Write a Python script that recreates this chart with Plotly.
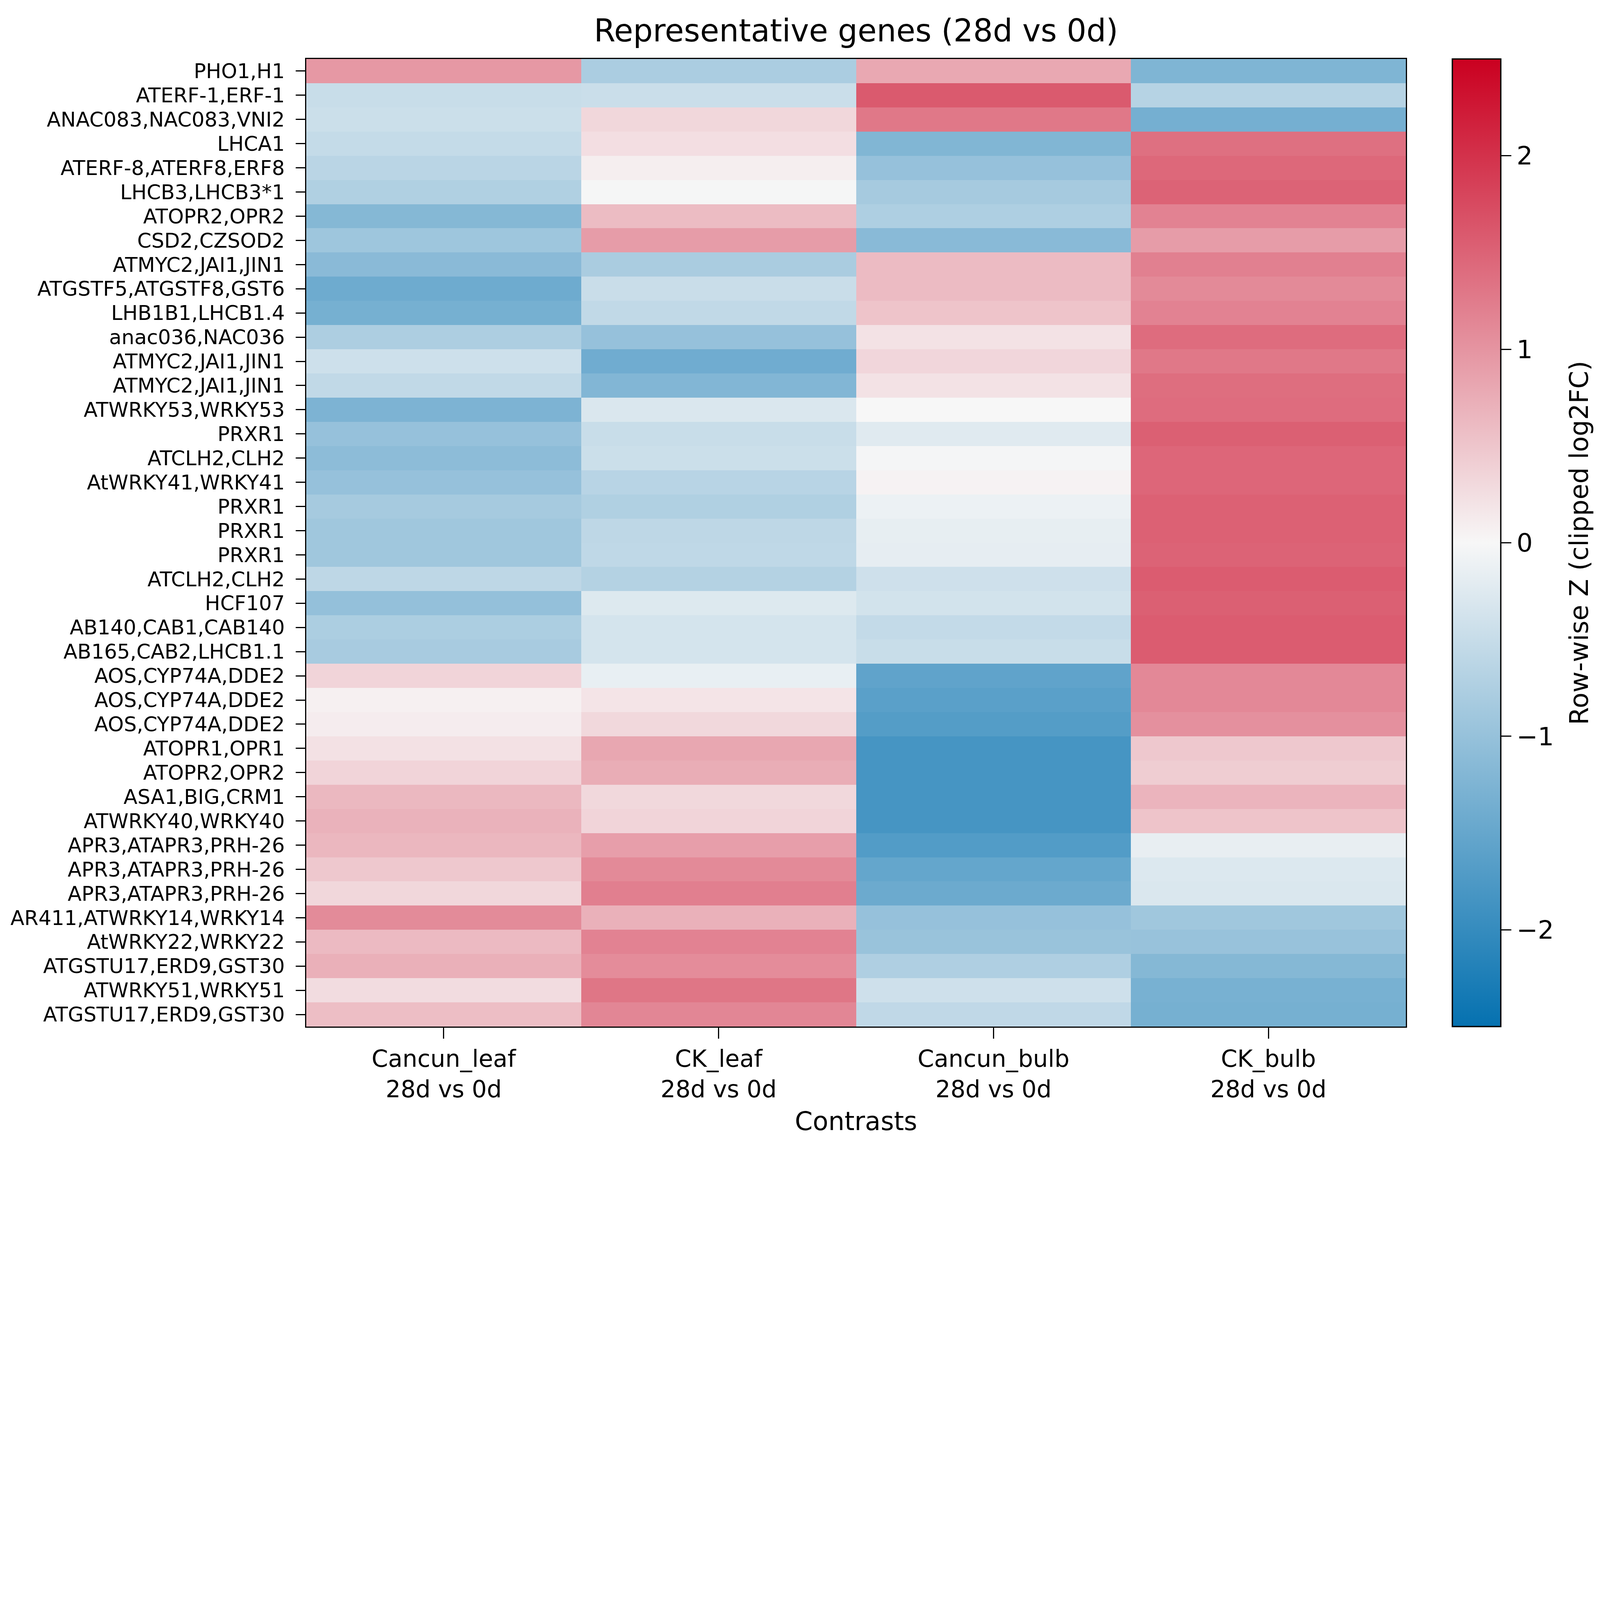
import plotly.graph_objects as go

genes = [
    "PHO1,H1", "ATERF-1,ERF-1", "ANAC083,NAC083,VNI2", "LHCA1", "ATERF-8,ATERF8,ERF8",
    "LHCB3,LHCB3*1", "ATOPR2,OPR2", "CSD2,CZSOD2", "ATMYC2,JAI1,JIN1", "ATGSTF5,ATGSTF8,GST6",
    "LHB1B1,LHCB1.4", "anac036,NAC036", "ATMYC2,JAI1,JIN1", "ATMYC2,JAI1,JIN1", "ATWRKY53,WRKY53",
    "PRXR1", "ATCLH2,CLH2", "AtWRKY41,WRKY41", "PRXR1", "PRXR1",
    "PRXR1", "ATCLH2,CLH2", "HCF107", "AB140,CAB1,CAB140", "AB165,CAB2,LHCB1.1",
    "AOS,CYP74A,DDE2", "AOS,CYP74A,DDE2", "AOS,CYP74A,DDE2", "ATOPR1,OPR1", "ATOPR2,OPR2",
    "ASA1,BIG,CRM1", "ATWRKY40,WRKY40", "APR3,ATAPR3,PRH-26", "APR3,ATAPR3,PRH-26", "APR3,ATAPR3,PRH-26",
    "AR411,ATWRKY14,WRKY14", "AtWRKY22,WRKY22", "ATGSTU17,ERD9,GST30", "ATWRKY51,WRKY51", "ATGSTU17,ERD9,GST30",
]

contrasts = ["Cancun_leaf<br>28d vs 0d", "CK_leaf<br>28d vs 0d",
             "Cancun_bulb<br>28d vs 0d", "CK_bulb<br>28d vs 0d"]

cancun_leaf = [0.96, -0.49, -0.45, -0.53, -0.63, -0.73, -1.18, -0.92, -1.13, -1.42,
               -1.33, -0.76, -0.43, -0.56, -1.26, -1.00, -1.10, -1.00, -0.84, -0.90,
               -0.90, -0.59, -1.02, -0.77, -0.82, 0.35, 0.07, 0.11, 0.22, 0.35,
               0.64, 0.70, 0.65, 0.48, 0.32, 1.09, 0.62, 0.72, 0.27, 0.58]
ck_leaf = [-0.78, -0.47, 0.32, 0.25, 0.09, -0.02, 0.60, 0.92, -0.80, -0.48,
           -0.56, -1.00, -1.39, -1.21, -0.30, -0.49, -0.45, -0.65, -0.73, -0.59,
           -0.58, -0.69, -0.27, -0.36, -0.36, -0.15, 0.19, 0.31, 0.81, 0.75,
           0.31, 0.35, 0.90, 1.10, 1.21, 0.71, 1.18, 1.08, 1.31, 1.14]
cancun_bulb = [0.80, 1.59, 1.29, -1.22, -1.00, -0.84, -0.75, -1.14, 0.61, 0.61,
               0.52, 0.21, 0.33, 0.21, 0.00, -0.24, -0.03, 0.05, -0.11, -0.17,
               -0.18, -0.42, -0.38, -0.54, -0.49, -1.56, -1.62, -1.68, -1.83, -1.83,
               -1.83, -1.83, -1.70, -1.52, -1.44, -1.00, -0.97, -0.74, -0.42, -0.57]
ck_bulb = [-1.24, -0.67, -1.34, 1.37, 1.45, 1.50, 1.18, 0.92, 1.20, 1.10,
           1.18, 1.41, 1.29, 1.39, 1.41, 1.53, 1.47, 1.47, 1.52, 1.52,
           1.50, 1.57, 1.53, 1.57, 1.57, 1.12, 1.12, 1.04, 0.48, 0.43,
           0.68, 0.52, -0.16, -0.28, -0.30, -0.90, -0.98, -1.18, -1.31, -1.33]

series = [cancun_leaf, ck_leaf, cancun_bulb, ck_bulb]
z = [[s[i] for s in series] for i in range(len(genes))]
xs = list(range(len(contrasts)))
ys = list(range(len(genes)))

# reference canvas 7331x5237; the browser viewport is 4096 wide, so scale everything
REF_W, REF_H = 7331, 5237
S = 4096 / REF_W


def px(v):
    return v * S


W, H = round(px(REF_W)), round(px(REF_H))
PL, PR, PT, PB = 1403, 6442, 271, 4703  # plot area in reference pixels
L, R, T, B = px(PL), px(REF_W - PR), px(PT), px(REF_H - PB)
FONT = "DejaVu Sans"

fig = go.Figure(go.Heatmap(
    z=z, x=xs, y=ys,
    zmin=-2.5, zmax=2.5,
    colorscale=[[0, "#0571b0"], [0.5, "#f7f7f7"], [1, "#ca0020"]],
    colorbar=dict(
        xref="container", x=6654 / REF_W, xanchor="left", xpad=0,
        yref="paper", y=0.5, yanchor="middle", ypad=0,
        len=1, lenmode="fraction", thickness=px(222), thicknessmode="pixels",
        outlinecolor="black", outlinewidth=px(6),
        ticks="outside", ticklen=px(47), tickwidth=px(6), tickcolor="black",
        tickvals=[-2, -1, 0, 1, 2],
        tickfont=dict(size=px(116), family=FONT, color="black"),
    ),
))

fig.update_layout(
    width=W, height=H,
    margin=dict(l=L, r=R, t=T, b=B, autoexpand=False),
    paper_bgcolor="white", plot_bgcolor="white",
    font=dict(family=FONT, color="black"),
    title=dict(text="Representative genes (28d vs 0d)", x=0.5, xref="paper",
               y=1 - 140 / REF_H, yref="container", xanchor="center", yanchor="middle",
               font=dict(size=px(142), family=FONT, color="black")),
    annotations=[dict(
        text="Row-wise Z (clipped log2FC)", textangle=-90, showarrow=False,
        xref="paper", yref="paper",
        x=(7236 - PL) / (PR - PL), y=0.5, xanchor="center", yanchor="middle",
        font=dict(size=px(118), family=FONT, color="black"),
    )],
)

fig.update_xaxes(
    range=[-0.5, 3.5], tickvals=xs, ticktext=contrasts,
    ticks="outside", ticklen=px(49), tickwidth=px(6), tickcolor="black",
    tickfont=dict(size=px(108)), showline=True, linewidth=px(6), linecolor="black",
    mirror=True, showgrid=False, zeroline=False,
    title=dict(text="Contrasts", font=dict(size=px(117)), standoff=px(45)),
)
fig.update_yaxes(
    range=[len(genes) - 0.5, -0.5], tickvals=ys, ticktext=genes,
    ticks="outside", ticklen=px(42), tickwidth=px(6), tickcolor="black",
    ticklabelstandoff=int(round(px(33))),
    tickfont=dict(size=px(93)), showline=True, linewidth=px(6), linecolor="black",
    mirror=True, showgrid=False, zeroline=False,
)

fig.write_html("out.html", config={"displayModeBar": False},
               post_script="document.body.style.margin='0';")
